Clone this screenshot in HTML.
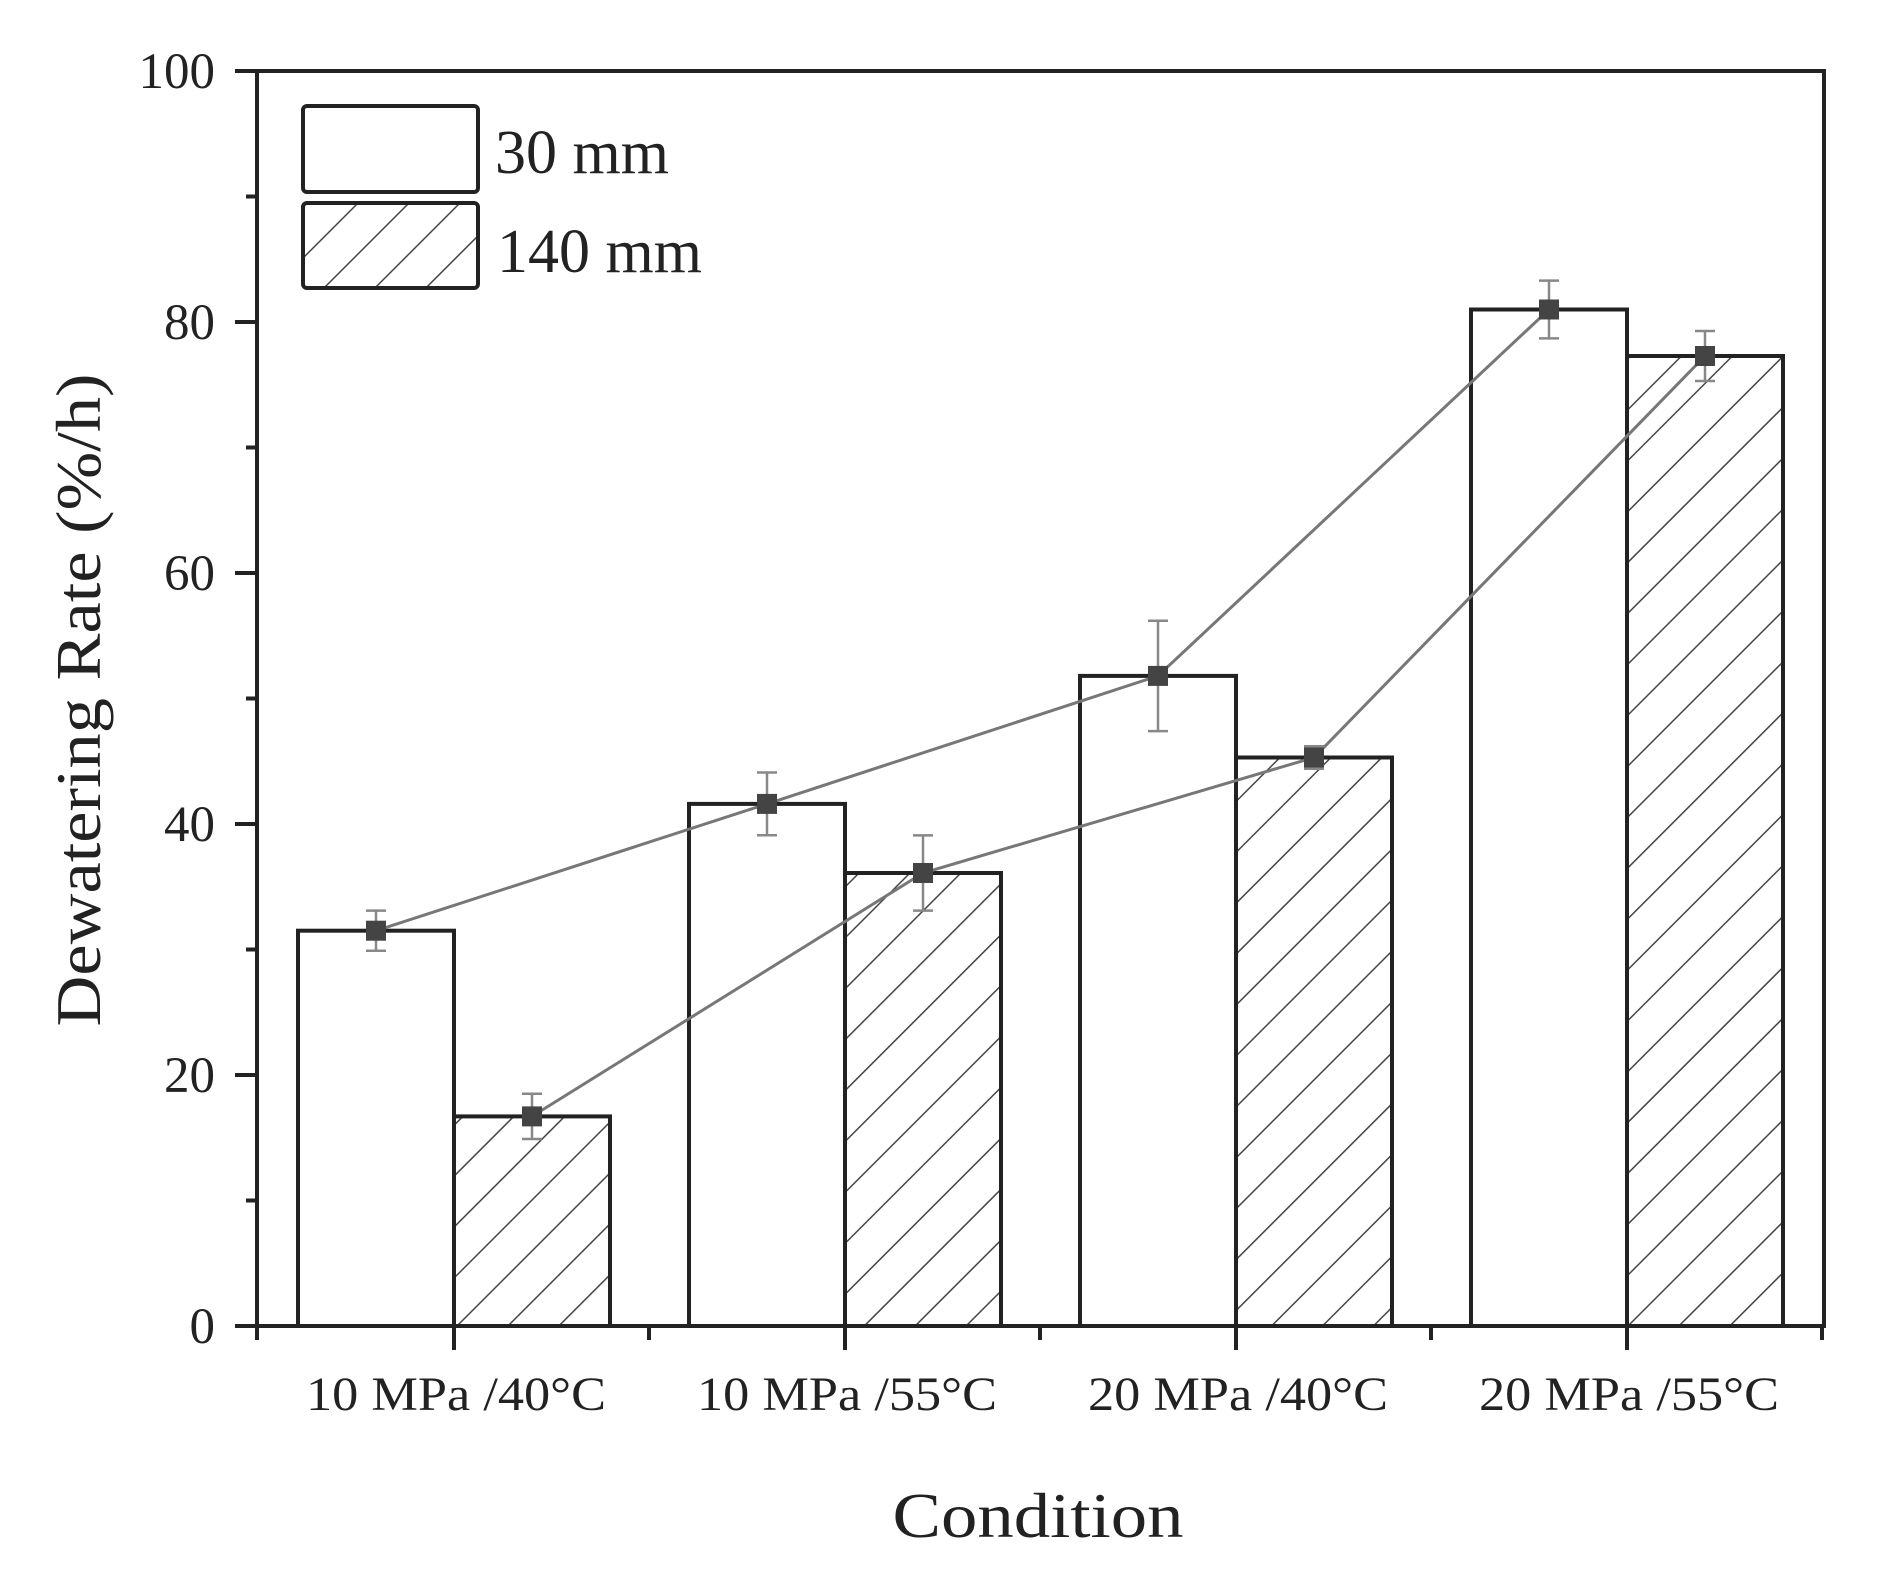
<!DOCTYPE html>
<html><head><meta charset="utf-8"><style>html,body{margin:0;padding:0;background:#fff}svg{display:block}</style></head>
<body>
<svg width="1892" height="1582" viewBox="0 0 1892 1582" xmlns="http://www.w3.org/2000/svg" font-family="'Liberation Serif', serif">
<defs>
<pattern id="h" patternUnits="userSpaceOnUse" width="36" height="36" patternTransform="rotate(45)">
<rect width="36" height="36" fill="#fff"/>
<line x1="0" y1="0" x2="0" y2="36" stroke="#444" stroke-width="3"/>
</pattern>
</defs>
<rect width="1892" height="1582" fill="#fff"/>
<g stroke="#222" stroke-width="4" fill="#fff">
<rect x="298" y="930.7" width="156" height="395.3"/>
<rect x="689" y="803.9" width="156" height="522.1"/>
<rect x="1080" y="675.9" width="156" height="650.1"/>
<rect x="1471" y="309.5" width="156" height="1016.5"/>
<rect x="454" y="1116.4" width="156" height="209.6" fill="url(#h)"/>
<rect x="845" y="873" width="156" height="453" fill="url(#h)"/>
<rect x="1236" y="757.5" width="156" height="568.5" fill="url(#h)"/>
<rect x="1627" y="356" width="156" height="970" fill="url(#h)"/>
</g>
<g stroke="#777" stroke-width="3" fill="none">
<polyline points="376,930.7 767,803.9 1158,675.9 1549,309.5"/>
<polyline points="532,1116.4 923,873 1314,757.5 1705,356"/>
</g>
<g stroke="#888" stroke-width="2.5">
<path d="M376,910.6V950.8M366,910.6H386M366,950.8H386"/>
<path d="M767,772.5V835.3M757,772.5H777M757,835.3H777"/>
<path d="M1158,620.7V731.1M1148,620.7H1168M1148,731.1H1168"/>
<path d="M1549,280.6V338.4M1539,280.6H1559M1539,338.4H1559"/>
<path d="M532,1093.8V1139M522,1093.8H542M522,1139H542"/>
<path d="M923,835.4V910.6M913,835.4H933M913,910.6H933"/>
<path d="M1314,746.2V768.8M1304,746.2H1324M1304,768.8H1324"/>
<path d="M1705,331V381M1695,331H1715M1695,381H1715"/>
</g>
<g fill="#444">
<rect x="366" y="920.7" width="20" height="20"/>
<rect x="757" y="793.9" width="20" height="20"/>
<rect x="1148" y="665.9" width="20" height="20"/>
<rect x="1539" y="299.5" width="20" height="20"/>
<rect x="522" y="1106.4" width="20" height="20"/>
<rect x="913" y="863" width="20" height="20"/>
<rect x="1304" y="747.5" width="20" height="20"/>
<rect x="1695" y="346" width="20" height="20"/>
</g>
<rect x="257" y="71" width="1567" height="1255" fill="none" stroke="#222" stroke-width="4"/>
<g stroke="#222" stroke-width="4">
<path d="M235,71H257M235,322H257M235,573H257M235,824H257M235,1075H257M235,1326H257"/>
<path d="M246,196.5H257M246,447.5H257M246,698.5H257M246,949.5H257M246,1200.5H257"/>
<path d="M454,1326V1350M845,1326V1350M1236,1326V1350M1627,1326V1350"/>
<path d="M257,1326V1340M649,1326V1340M1040,1326V1340M1431,1326V1340M1822,1326V1340"/>
</g>
<g font-size="51" fill="#222" text-anchor="end">
<text x="215" y="88">100</text>
<text x="215" y="339">80</text>
<text x="215" y="590">60</text>
<text x="215" y="841">40</text>
<text x="215" y="1092">20</text>
<text x="215" y="1343">0</text>
</g>
<g font-size="48" fill="#222" text-anchor="middle">
<text x="456" y="1410" textLength="300" lengthAdjust="spacingAndGlyphs">10 MPa /40°C</text>
<text x="847" y="1410" textLength="300" lengthAdjust="spacingAndGlyphs">10 MPa /55°C</text>
<text x="1238" y="1410" textLength="300" lengthAdjust="spacingAndGlyphs">20 MPa /40°C</text>
<text x="1629" y="1410" textLength="300" lengthAdjust="spacingAndGlyphs">20 MPa /55°C</text>
</g>
<text x="1038" y="1537" font-size="64" fill="#222" text-anchor="middle" textLength="291" lengthAdjust="spacingAndGlyphs">Condition</text>
<text transform="translate(100,700) rotate(-90)" font-size="64" fill="#222" text-anchor="middle" textLength="653" lengthAdjust="spacingAndGlyphs">Dewatering Rate (%/h)</text>
<rect x="303" y="106" width="175" height="86" rx="4" fill="#fff" stroke="#222" stroke-width="4"/>
<rect x="303" y="203" width="175" height="85" rx="4" fill="url(#h)" stroke="#222" stroke-width="4"/>
<text x="495" y="173" font-size="62" fill="#222">30 mm</text>
<text x="497" y="272" font-size="62" fill="#222">140 mm</text>
</svg>
</body></html>
